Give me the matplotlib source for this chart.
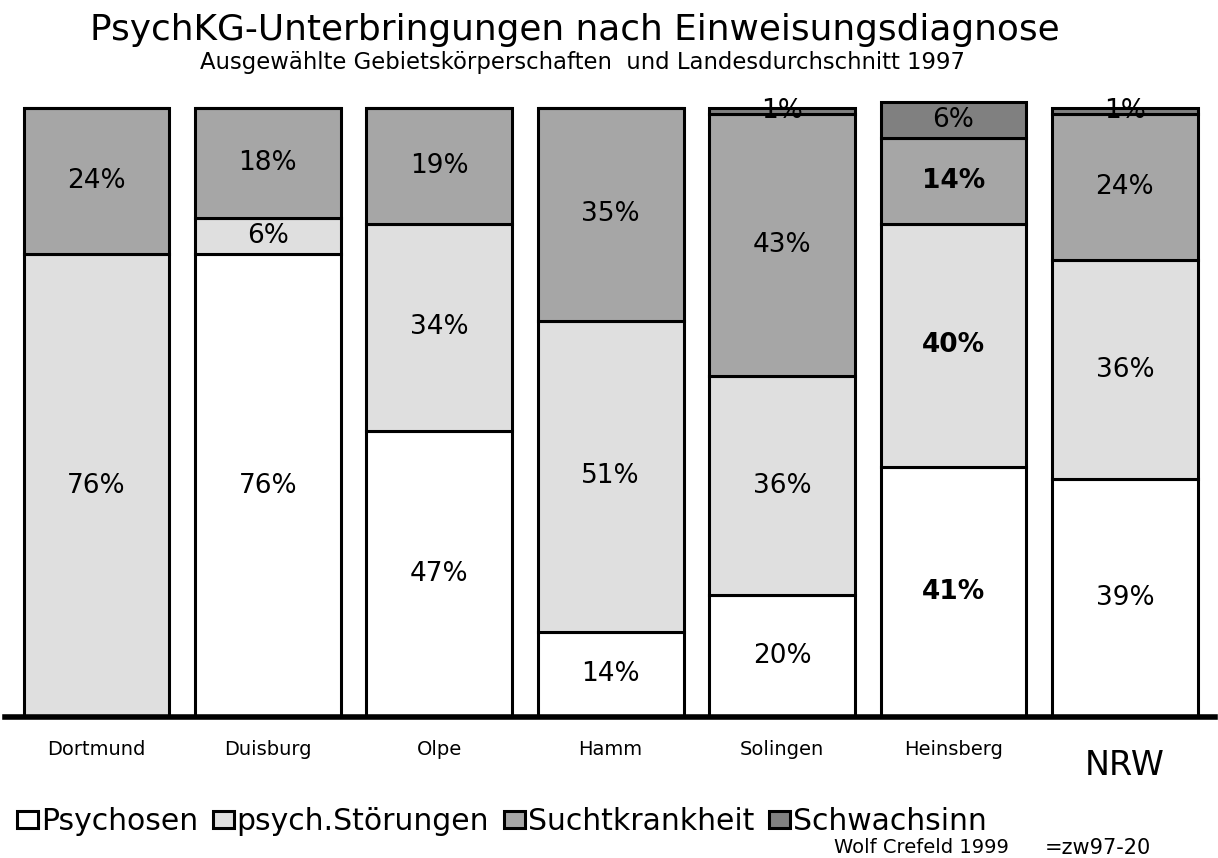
import matplotlib
matplotlib.use("Agg")
import matplotlib.pyplot as plt
import numpy as np

# Daten (Prozent je Gebiet)
orte = ["Dortmund", "Duisburg", "Olpe", "Hamm", "Solingen", "Heinsberg", "NRW"]
psychosen = [0, 76, 47, 14, 20, 41, 39]
stoerungen = [76, 6, 34, 51, 36, 40, 36]
sucht = [24, 18, 19, 35, 43, 14, 24]
schwachsinn = [0, 0, 0, 0, 1, 6, 1]

serien = ["Psychosen", "psych.Störungen", "Suchtkrankheit", "Schwachsinn"]
farben = ["#ffffff", "#dfdfdf", "#a6a6a6", "#808080"]
fett = "Heinsberg"

fig = plt.figure(figsize=(12.18, 8.58), dpi=100)
ax = fig.add_axes([5/1218, 141/858, 1210/1218, 0.7241])

x = np.arange(len(orte))
unten = np.zeros(len(orte))
griffe = []
for werte, name, farbe in zip([psychosen, stoerungen, sucht, schwachsinn], serien, farben):
    werte = np.array(werte, dtype=float)
    b = ax.bar(x, werte, 0.85, bottom=unten, color=farbe, edgecolor="black",
               linewidth=2.2, label=name)
    griffe.append(b)
    for i in range(len(orte)):
        if werte[i] > 0:
            w = "bold" if (orte[i] == fett and werte[i] > 6) else "normal"
            ax.text(x[i], unten[i] + werte[i]/2, "%d%%" % werte[i], ha="center",
                    va="center", fontsize=19, fontweight=w)
    unten += werte

ax.axhline(0, color="black", linewidth=4, clip_on=False, zorder=5)
ax.set_xlim(-0.534, 6.526)
ax.set_ylim(0, 102)
ax.axis("off")

# Ortsnamen
for i, o in enumerate(orte):
    if o == "NRW":
        ax.text(x[i], -8.0, o, ha="center", va="center", fontsize=24)
    else:
        ax.text(x[i], -5.4, o, ha="center", va="center", fontsize=14)

fig.text(0.472, 0.965, "PsychKG-Unterbringungen nach Einweisungsdiagnose",
         ha="center", va="center", fontsize=25.8)
fig.text(0.478, 0.927, "Ausgewählte Gebietskörperschaften  und Landesdurchschnitt 1997",
         ha="center", va="center", fontsize=16.4)

fig.legend(handles=griffe, labels=serien, loc="center left",
           bbox_to_anchor=(0.004, 0.042), ncol=4, frameon=False, fontsize=21.5,
           handlelength=0.7, handleheight=0.5, handletextpad=0.1,
           columnspacing=0.5, borderaxespad=0)

fig.text(0.685, 0.012, "Wolf Crefeld 1999", ha="left", va="center", fontsize=14)
fig.text(0.858, 0.012, "=zw97-20", ha="left", va="center", fontsize=15)

fig.savefig("out.png", dpi=100)
